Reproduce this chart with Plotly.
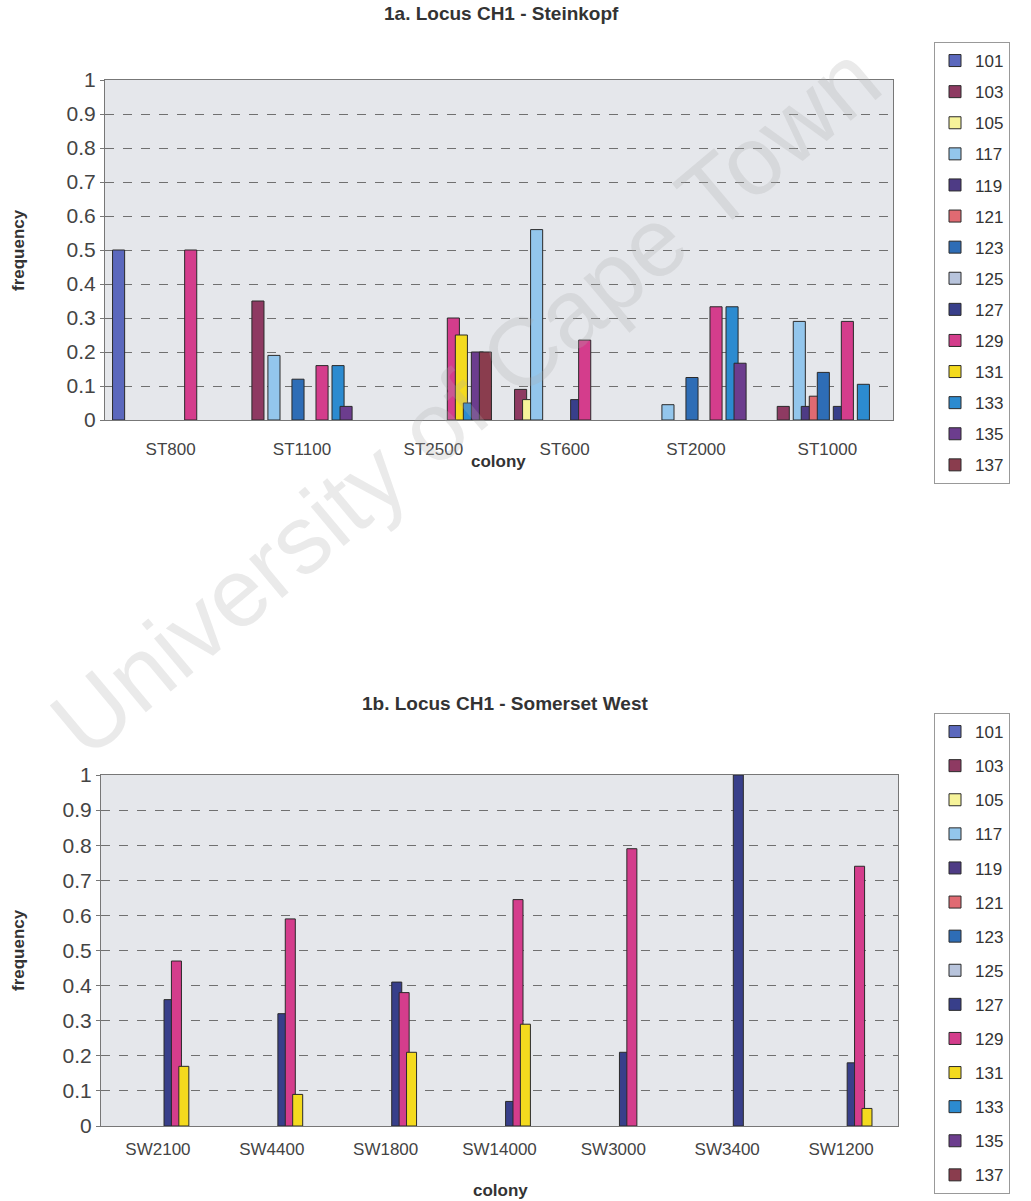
import plotly.graph_objects as go

# ---------------- data ----------------
alleles = ["101", "103", "105", "117", "119", "121", "123", "125",
           "127", "129", "131", "133", "135", "137"]
colors = ["#5B68BD", "#8E3A62", "#F6F39A", "#93C6EC", "#4E3B85", "#E06A72",
          "#2E6DB6", "#B8C4DC", "#383F8A", "#D43D8C", "#F4DA1E", "#2C8BD0",
          "#6C3D8E", "#8A3D4E"]

colonies_a = ["ST800", "ST1100", "ST2500", "ST600", "ST2000", "ST1000"]
freq_a = {
    "101": [0.50, 0, 0, 0, 0, 0],
    "103": [0, 0.35, 0, 0.09, 0, 0.04],
    "105": [0, 0, 0, 0.06, 0, 0],
    "117": [0, 0.19, 0, 0.56, 0.045, 0.29],
    "119": [0, 0, 0, 0, 0, 0.04],
    "121": [0, 0, 0, 0, 0, 0.07],
    "123": [0, 0.12, 0, 0, 0.125, 0.14],
    "125": [0, 0, 0, 0, 0, 0],
    "127": [0, 0, 0, 0.06, 0, 0.04],
    "129": [0.50, 0.16, 0.30, 0.235, 0.333, 0.29],
    "131": [0, 0, 0.25, 0, 0, 0],
    "133": [0, 0.16, 0.05, 0, 0.333, 0.105],
    "135": [0, 0.04, 0.20, 0, 0.167, 0],
    "137": [0, 0, 0.20, 0, 0, 0],
}

colonies_b = ["SW2100", "SW4400", "SW1800", "SW14000", "SW3000", "SW3400", "SW1200"]
freq_b = {a: [0] * 7 for a in alleles}
freq_b["127"] = [0.36, 0.32, 0.41, 0.07, 0.21, 1.00, 0.18]
freq_b["129"] = [0.47, 0.59, 0.38, 0.645, 0.79, 0, 0.74]
freq_b["131"] = [0.17, 0.09, 0.21, 0.29, 0, 0, 0.05]

y_ticks = [0, 0.1, 0.2, 0.3, 0.4, 0.5, 0.6, 0.7, 0.8, 0.9, 1]
y_ticktext = ["0", "0.1", "0.2", "0.3", "0.4", "0.5", "0.6", "0.7", "0.8", "0.9", "1"]

# ---------------- figure ----------------
W, H = 1031, 1201
FONT = "Liberation Sans, Arial, sans-serif"
fig = go.Figure()

def add_set(cats, freqs, xa, ya, legend, slot, width):
    start = -(13 * slot + width) / 2
    for i, (a, c) in enumerate(zip(alleles, colors)):
        # zero frequencies are not drawn (as in the original chart)
        vals = [v if v > 0 else None for v in freqs[a]]
        fig.add_trace(go.Bar(
            x=cats, y=vals, name=a, xaxis=xa, yaxis=ya,
            legend=legend, legendgroup=legend + a,
            marker=dict(color=c, line=dict(color="#2a2a2a", width=1)),
            offset=start + i * slot, width=width,
        ))

add_set(colonies_a, freq_a, "x", "y", "legend", 0.061, 0.092)
add_set(colonies_b, freq_b, "x2", "y2", "legend2", 0.065, 0.088)

def px(x):
    return x / W

def py(y):
    return 1 - y / H

axis_common = dict(showgrid=False, showline=True, linecolor="#777", linewidth=1,
                   mirror=True, tickfont=dict(family=FONT, size=17, color="#444"),
                   ticks="", fixedrange=True, automargin=False)
yaxis_common = dict(range=[0, 1], tickvals=y_ticks, ticktext=y_ticktext,
                    showgrid=True, gridcolor="#707070", griddash="dash", gridwidth=1,
                    showline=True, linecolor="#777", mirror=True,
                    ticks="outside", ticklen=4, tickcolor="#777",
                    tickfont=dict(family=FONT, size=21, color="#444"),
                    zeroline=False, fixedrange=True, automargin=False)

fig.update_layout(
    template="none",
    width=W, height=H,
    margin=dict(l=0, r=0, t=0, b=0, autoexpand=False),
    paper_bgcolor="white",
    plot_bgcolor="#E5E7EB",
    barmode="overlay",
    showlegend=True,
    font=dict(family=FONT, color="#333"),
    xaxis=dict(domain=[px(105), px(893)], anchor="y", ticklabelstandoff=14, **axis_common),
    yaxis=dict(domain=[py(420), py(80)], anchor="x", **yaxis_common),
    xaxis2=dict(domain=[px(101), px(898)], anchor="y2", ticklabelstandoff=8, **axis_common),
    yaxis2=dict(domain=[py(1126), py(775)], anchor="x2", **yaxis_common),
    legend=dict(x=px(934), y=py(42), xanchor="left", yanchor="top",
                bordercolor="#999", borderwidth=1, bgcolor="white",
                font=dict(family=FONT, size=17, color="#333"),
                tracegroupgap=6, itemclick=False),
    legend2=dict(x=px(934), y=py(713), xanchor="left", yanchor="top",
                 bordercolor="#999", borderwidth=1, bgcolor="white",
                 font=dict(family=FONT, size=17, color="#333"),
                 tracegroupgap=9, itemclick=False),
)

def note(text, x, y, size, angle=0, color="#333"):
    return dict(text=text, x=px(x), y=py(y), xref="paper", yref="paper",
                xanchor="center", yanchor="middle", showarrow=False,
                textangle=angle, font=dict(family=FONT, size=size, color=color))

ann = [
    note("<b>1a. Locus CH1 - Steinkopf</b>", 501, 14, 19),
    note("<b>1b. Locus CH1 - Somerset West</b>", 505, 703, 19),
    note("<b>colony</b>", 498, 462, 17),
    note("<b>colony</b>", 500, 1190, 17),
    note("<b>frequency</b>", 18, 250, 17, -90),
    note("<b>frequency</b>", 18, 950, 17, -90),
    # scanned watermark
    note("University of Cape Town", 465, 400, 97, -40, "rgba(170,170,170,0.25)"),
]
fig.update_layout(annotations=ann)

fig.write_html("out.html")
